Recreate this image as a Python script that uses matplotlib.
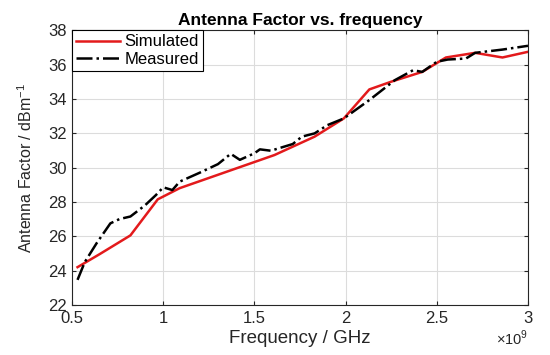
import numpy as np
from matplotlib import pyplot as plt
from matplotlib.ticker import FormatStrFormatter

plt.rcParams['font.family'] = ['Liberation Sans', 'DejaVu Sans']
plt.rcParams['mathtext.fontset'] = 'custom'
plt.rcParams['mathtext.rm'] = 'Liberation Sans'

# frequency in GHz (axis shown with x10^9 multiplier)
sim_f = [0.53, 0.65, 0.82, 0.97, 1.09, 1.61, 1.83, 1.99, 2.13, 2.25, 2.42, 2.55, 2.71, 2.86, 3.0]
sim_v = [24.2, 24.95, 26.05, 28.15, 28.8, 30.73, 31.8, 32.86, 34.55, 35.0, 35.57, 36.41, 36.68, 36.41, 36.74]

meas_f = [0.53, 0.57, 0.635, 0.71, 0.76, 0.82, 0.9, 0.96, 1.0, 1.05, 1.09, 1.2, 1.3, 1.37,
          1.42, 1.5, 1.53, 1.59, 1.71, 1.76, 1.83, 1.9, 1.99, 2.13, 2.27, 2.37, 2.42,
          2.5, 2.56, 2.66, 2.71, 2.86, 3.0]
meas_v = [23.46, 24.5, 25.6, 26.75, 27.0, 27.15, 27.8, 28.4, 28.85, 28.69, 29.18, 29.7, 30.2, 30.8,
          30.45, 30.83, 31.06, 30.98, 31.37, 31.8, 31.99, 32.47, 32.86, 33.93, 35.09, 35.67, 35.57,
          36.16, 36.29, 36.35, 36.68, 36.87, 37.09]

xticks = [0.5, 1, 1.5, 2, 2.5, 3]
yticks = [22, 24, 26, 28, 30, 32, 34, 36, 38]

fig = plt.figure(figsize=(5.5, 3.55), dpi=100)
ax = fig.add_axes([0.131, 0.141, 0.829, 0.774])

ax.plot(sim_f, sim_v, color='#e31a1c', lw=1.8, label='Simulated')
ax.plot(meas_f, meas_v, color='black', lw=1.8, linestyle='-.', label='Measured')

ax.set_xlim(0.5, 3)
ax.set_ylim(22, 38)
ax.set_xticks(xticks)
ax.set_yticks(yticks)
ax.xaxis.set_major_formatter(FormatStrFormatter('%g'))
ax.grid(True, color='#dcdcdc', lw=0.8)
ax.set_axisbelow(True)
ax.tick_params(direction='in', top=True, right=True, length=3, colors='#262626',
               labelsize=12, labelcolor='#262626', pad=4)
for s in ax.spines.values():
    s.set_color('#262626')
    s.set_linewidth(0.8)

ax.set_xlabel('Frequency / GHz', fontsize=13.5, color='#262626', labelpad=3)
ax.set_ylabel('Antenna Factor / dBm$^{-1}$', fontsize=11.5, color='#262626', labelpad=9)
ax.set_title('Antenna Factor vs. frequency', fontsize=12.5, fontweight='bold', pad=4)
ax.text(1.0, -0.12, r'$\times10^9$', transform=ax.transAxes, ha='right', va='center',
        fontsize=10.5, color='#262626')

leg = ax.legend(loc='upper left', fontsize=12, handlelength=2.6, borderaxespad=0,
                fancybox=False, framealpha=1, edgecolor='black', borderpad=0.25,
                labelspacing=0.15, handletextpad=0.3)
leg.get_frame().set_linewidth(0.8)

fig.savefig('out.png', dpi=100)
